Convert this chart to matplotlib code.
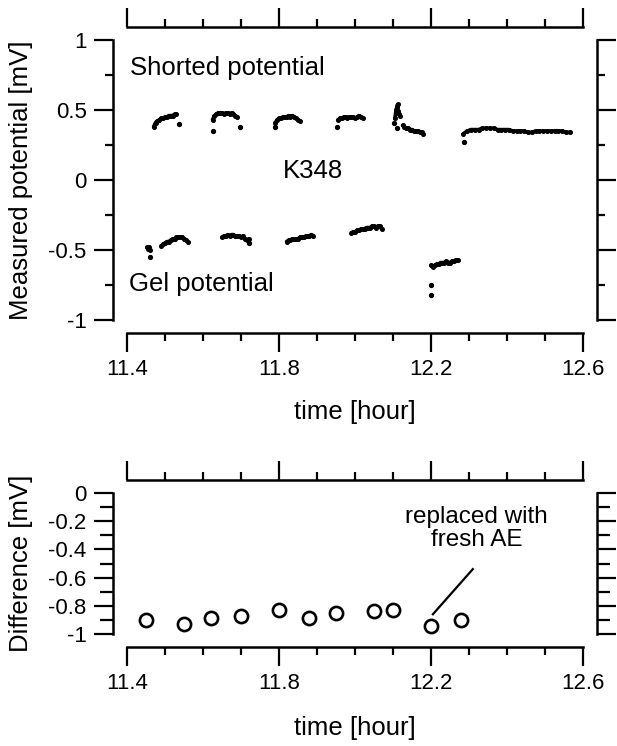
import matplotlib
matplotlib.use('Agg')
import matplotlib.pyplot as plt
from matplotlib.ticker import MultipleLocator, FuncFormatter

plt.rcParams['font.family'] = ['Liberation Sans', 'DejaVu Sans']
plt.rcParams['axes.unicode_minus'] = False

# ---------------- data ----------------
# Shorted potential segments (time [hour], potential [mV])
s1_x = [11.470, 11.475, 11.480, 11.485, 11.490, 11.495, 11.500, 11.505, 11.510, 11.515, 11.520, 11.525, 11.530]
s1_y = [0.38, 0.41, 0.42, 0.43, 0.44, 0.44, 0.45, 0.45, 0.46, 0.46, 0.46, 0.47, 0.47]
s2_x = [11.625, 11.630, 11.635, 11.640, 11.645, 11.650, 11.655, 11.660, 11.665, 11.670, 11.675, 11.680, 11.685, 11.690]
s2_y = [0.43, 0.46, 0.47, 0.48, 0.48, 0.48, 0.47, 0.48, 0.48, 0.47, 0.48, 0.47, 0.46, 0.45]
s3_x = [11.790, 11.795, 11.800, 11.805, 11.810, 11.815, 11.820, 11.825, 11.830, 11.835, 11.840, 11.845, 11.850, 11.855]
s3_y = [0.41, 0.43, 0.44, 0.44, 0.45, 0.45, 0.45, 0.46, 0.45, 0.46, 0.45, 0.44, 0.43, 0.42]
s4_x = [11.955, 11.960, 11.965, 11.970, 11.975, 11.980, 11.985, 11.990, 11.995, 12.000, 12.005, 12.010, 12.015, 12.020]
s4_y = [0.43, 0.44, 0.44, 0.45, 0.45, 0.44, 0.45, 0.45, 0.45, 0.44, 0.45, 0.46, 0.45, 0.44]
s5_x = [12.105, 12.108, 12.110, 12.112, 12.113, 12.115, 12.118]
s5_y = [0.44, 0.50, 0.52, 0.54, 0.49, 0.47, 0.46]
s6_x = [12.125, 12.130, 12.135, 12.140, 12.145, 12.150, 12.155, 12.160, 12.165, 12.170, 12.175, 12.180]
s6_y = [0.39, 0.38, 0.37, 0.37, 0.36, 0.36, 0.35, 0.35, 0.35, 0.34, 0.34, 0.33]
s7_x = [12.285, 12.295, 12.305, 12.315, 12.325, 12.335, 12.345, 12.355, 12.365, 12.375,
        12.385, 12.395, 12.405, 12.415, 12.425, 12.435, 12.445, 12.455, 12.465, 12.475,
        12.485, 12.495, 12.505, 12.515, 12.525, 12.535, 12.545, 12.555, 12.565]
s7_y = [0.33, 0.35, 0.36, 0.36, 0.36, 0.37, 0.37, 0.37, 0.37, 0.36, 0.36, 0.36, 0.36, 0.35, 0.35,
        0.35, 0.35, 0.34, 0.34, 0.35, 0.35, 0.35, 0.35, 0.35, 0.35, 0.35, 0.35, 0.34, 0.34]
shorted_stray_x = [11.537, 11.627, 11.697, 11.790, 11.952, 12.102, 12.110, 12.287]
shorted_stray_y = [0.40, 0.35, 0.38, 0.38, 0.38, 0.41, 0.37, 0.27]

# Gel potential segments
g1_x = [11.452, 11.455, 11.458, 11.460]
g1_y = [-0.48, -0.49, -0.48, -0.50]
g2_x = [11.490, 11.495, 11.500, 11.505, 11.510, 11.515, 11.520, 11.525, 11.530, 11.535, 11.540, 11.545, 11.550, 11.555, 11.560]
g2_y = [-0.47, -0.46, -0.45, -0.44, -0.44, -0.43, -0.42, -0.42, -0.41, -0.41, -0.41, -0.41, -0.42, -0.43, -0.44]
g3_x = [11.650, 11.655, 11.660, 11.665, 11.670, 11.675, 11.680, 11.685, 11.690, 11.695, 11.700, 11.705, 11.710, 11.715, 11.720]
g3_y = [-0.41, -0.40, -0.40, -0.39, -0.40, -0.39, -0.39, -0.40, -0.40, -0.40, -0.41, -0.40, -0.42, -0.43, -0.42]
g4_x = [11.820, 11.825, 11.830, 11.835, 11.840, 11.845, 11.850, 11.855, 11.860, 11.865, 11.870, 11.875, 11.880, 11.885, 11.890]
g4_y = [-0.44, -0.43, -0.43, -0.42, -0.42, -0.42, -0.42, -0.41, -0.41, -0.41, -0.40, -0.40, -0.40, -0.39, -0.40]
g5_x = [11.990, 11.995, 12.000, 12.005, 12.010, 12.015, 12.020, 12.025, 12.030, 12.035, 12.040, 12.045, 12.050, 12.055, 12.060, 12.065, 12.070]
g5_y = [-0.38, -0.37, -0.37, -0.36, -0.36, -0.35, -0.35, -0.35, -0.34, -0.34, -0.34, -0.33, -0.33, -0.34, -0.33, -0.33, -0.35]
g6_x = [12.200, 12.205, 12.210, 12.215, 12.220, 12.225, 12.230, 12.235, 12.240, 12.245, 12.250, 12.255, 12.260, 12.265, 12.270]
g6_y = [-0.61, -0.62, -0.61, -0.60, -0.60, -0.59, -0.59, -0.59, -0.58, -0.59, -0.59, -0.58, -0.58, -0.57, -0.57]
gel_stray_x = [11.460, 11.722, 12.200, 12.200]
gel_stray_y = [-0.55, -0.45, -0.75, -0.82]

# Difference panel
diff_x = [11.45, 11.55, 11.62, 11.70, 11.80, 11.88, 11.95, 12.05, 12.10, 12.20, 12.28]
diff_y = [-0.90, -0.93, -0.89, -0.87, -0.83, -0.89, -0.85, -0.84, -0.83, -0.94, -0.90]

x_ticks = [11.4, 11.8, 12.2, 12.6]
top_y_ticks = [-1, -0.5, 0, 0.5, 1]
bot_y_ticks = [-1, -0.8, -0.6, -0.4, -0.2, 0]

# ---------------- figure ----------------
W, H = 617, 746
fig = plt.figure(figsize=(W / 100, H / 100), dpi=100)


def px(x0, y0, x1, y1):
    return [x0 / W, 1 - y1 / H, (x1 - x0) / W, (y1 - y0) / H]


ax1 = fig.add_axes(px(127, 40, 583, 320))
ax2 = fig.add_axes(px(127, 493, 583, 634))


def fmt(v, pos):
    if abs(v) < 1e-9:
        return '0'
    return '%g' % v


def style(ax, yticks, ymin):
    for s in ['left', 'right', 'top', 'bottom']:
        ax.spines[s].set_linewidth(1.8)
    ax.spines['left'].set_position(('outward', 10))
    ax.spines['right'].set_position(('outward', 10))
    ax.spines['top'].set_position(('outward', 9.5))
    ax.spines['bottom'].set_position(('outward', 9))
    ax.set_xlim(11.4, 12.6)
    ax.set_ylim(min(yticks), max(yticks))
    ax.set_xticks(x_ticks)
    ax.xaxis.set_minor_locator(MultipleLocator(0.1))
    ax.set_yticks(yticks)
    ax.yaxis.set_minor_locator(MultipleLocator(ymin))
    ax.xaxis.set_major_formatter(FuncFormatter(fmt))
    ax.yaxis.set_major_formatter(FuncFormatter(fmt))
    ax.tick_params(which='both', direction='out', top=True, right=True, bottom=True, left=True,
                   labeltop=False, labelright=False, width=1.6, labelsize=16, pad=5, color='k')
    ax.tick_params(which='major', length=14)
    ax.tick_params(which='minor', length=6)


style(ax1, top_y_ticks, 0.25)
style(ax2, bot_y_ticks, 0.1)
ax2.tick_params(axis='y', which='minor', length=9.5)

seg_kw = dict(color='k', lw=2.6, marker='o', ms=2.6, solid_capstyle='round')
for sx, sy in [(s1_x, s1_y), (s2_x, s2_y), (s3_x, s3_y), (s4_x, s4_y), (s5_x, s5_y), (s6_x, s6_y), (s7_x, s7_y),
               (g1_x, g1_y), (g2_x, g2_y), (g3_x, g3_y), (g4_x, g4_y), (g5_x, g5_y), (g6_x, g6_y)]:
    ax1.plot(sx, sy, **seg_kw)
ax1.plot(shorted_stray_x, shorted_stray_y, 'o', color='k', ms=2.8, ls='none')
ax1.plot(gel_stray_x, gel_stray_y, 'o', color='k', ms=2.8, ls='none')

ax1.text(11.408, 0.80, 'Shorted potential', fontsize=18.5, ha='left', va='center')
ax1.text(11.81, 0.065, 'K348', fontsize=18.5, ha='left', va='center')
ax1.text(11.405, -0.74, 'Gel potential', fontsize=18.5, ha='left', va='center')

ax1.set_ylabel('Measured potential [mV]', fontsize=18.5)
ax1.yaxis.set_label_coords((33 - 127) / 456, 0.5)
ax1.set_xlabel('time [hour]', fontsize=18.5)
ax1.xaxis.set_label_coords(0.5, -(400 - 320) / 280)

ax2.plot(diff_x, diff_y, 'o', mfc='white', mec='k', ms=9.5, mew=1.9, ls='none')
ax2.plot([12.205, 12.31], [-0.86, -0.54], color='k', lw=1.6)
ax2.text(12.32, -0.25, 'replaced with\nfresh AE', fontsize=17.5, ha='center', va='center', linespacing=1.05)

ax2.set_ylabel('Difference [mV]', fontsize=18.5)
ax2.yaxis.set_label_coords((33 - 127) / 456, 0.5)
ax2.set_xlabel('time [hour]', fontsize=18.5)
ax2.xaxis.set_label_coords(0.5, -(716 - 634) / 141)

fig.savefig('out.png', dpi=100)
